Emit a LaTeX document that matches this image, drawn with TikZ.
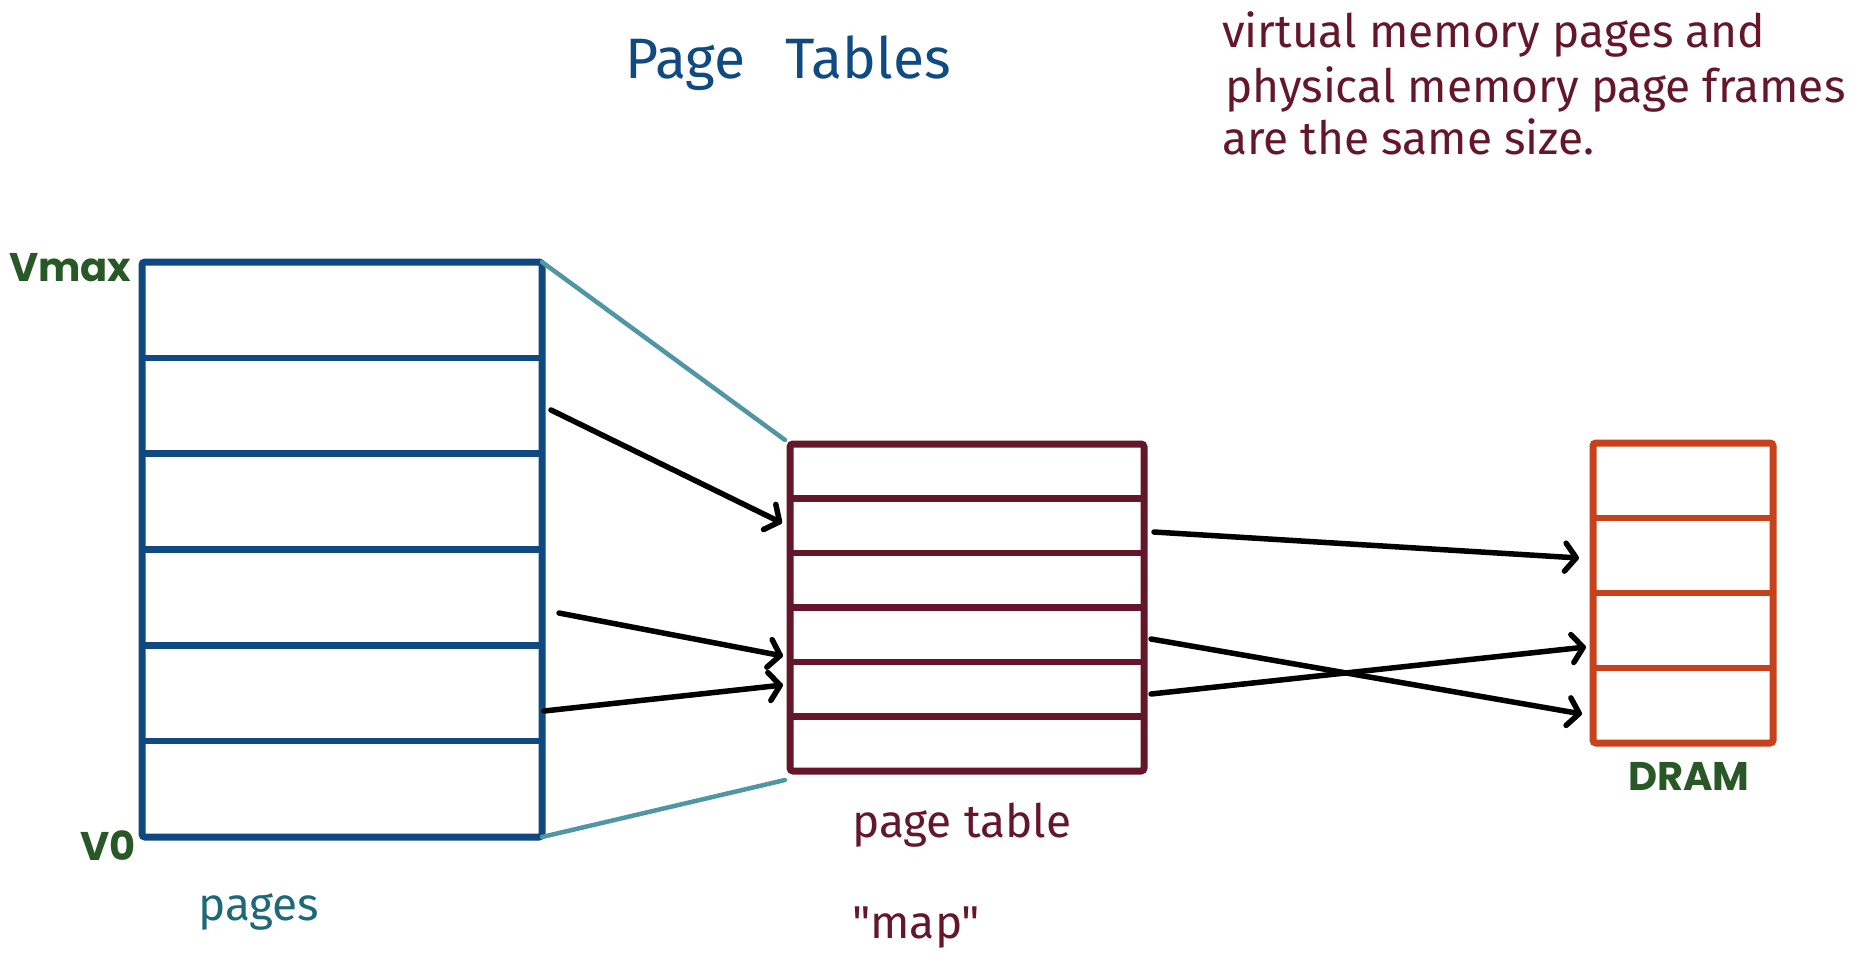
\documentclass[tikz,border=0pt]{standalone}
\usepackage{fontspec}
\setmainfont{Fira Sans}
\newfontfamily\handfont{Fira Sans}
\newfontfamily\geofont{Poppins}
\usetikzlibrary{arrows.meta,calc}
\definecolor{vblue}{RGB}{16,72,130}
\definecolor{tealline}{RGB}{80,150,165}
\definecolor{ptmaroon}{RGB}{100,22,42}
\definecolor{dramred}{RGB}{198,66,28}
\definecolor{lgreen}{RGB}{40,88,38}
\definecolor{pagesteal}{RGB}{30,105,120}
\definecolor{titleblue}{RGB}{15,75,130}
\begin{document}
\begin{tikzpicture}[x=1pt,y=-1pt,
  mem/.style={draw, line width=7pt, rounded corners=3pt, inner sep=0pt, outer sep=0pt},
  divline/.style={line width=6.5pt},
  link/.style={draw=black, line width=5.5pt, line cap=round, -{Straight Barb[length=11pt,width=28pt,round]}},
  fanline/.style={draw=tealline, line width=4.5pt, line cap=round},
  hand/.style={inner sep=0pt, anchor=base west, font=\handfont\fontsize{46}{54}\selectfont},
  tag/.style={inner sep=0pt, anchor=base west, text=lgreen, font=\geofont\bfseries\fontsize{40}{48}\selectfont}]
\useasboundingbox (0,0) rectangle (1861,977);
\fill[white] (0,0) rectangle (1861,977);

% boxes
\node[mem, draw=vblue, minimum width=400pt, minimum height=575pt] (vbox) at (342,549.5) {};
\node[mem, draw=ptmaroon, minimum width=354pt, minimum height=327pt] (ptable) at (967,607.5) {};
\node[mem, draw=dramred, minimum width=180pt, minimum height=300pt] (dram) at (1683,593) {};

% dividers
\foreach \k in {1,...,5}
  \draw[divline, vblue] ($(vbox.north west)!\k/6!(vbox.south west)$) -- ($(vbox.north east)!\k/6!(vbox.south east)$);
\foreach \k in {1,...,5}
  \draw[divline, ptmaroon] ($(ptable.north west)!\k/6!(ptable.south west)$) -- ($(ptable.north east)!\k/6!(ptable.south east)$);
\foreach \k in {1,...,3}
  \draw[divline, dramred] ($(dram.north west)!\k/4!(dram.south west)$) -- ($(dram.north east)!\k/4!(dram.south east)$);

% fan lines
\coordinate (ptTop) at (785,440);
\coordinate (ptBot) at (785,780);
\draw[fanline] (vbox.north east) -- (ptTop);
\draw[fanline] (vbox.south east) -- (ptBot);

% arrow endpoints
\coordinate (s1) at (551,410);  \coordinate (e1) at (782,523);
\coordinate (s2) at (559,613);  \coordinate (e2) at (783,656);
\coordinate (s3) at (544,711);  \coordinate (e3) at (783,685);
\coordinate (s4) at (1154,532); \coordinate (e4) at (1579,558);
\coordinate (s5) at (1151,639); \coordinate (e5) at (1582,714);
\coordinate (s6) at (1151,694); \coordinate (e6) at (1586,647);
\draw[link] (s1) -- (e1);
\draw[link] (s2) -- (e2);
\draw[link] (s3) -- (e3);
\draw[link] (s4) -- (e4);
\draw[link] (s5) -- (e5);
\draw[link] (s6) -- (e6);

% labels
\node[tag] (vmax) at (9,281) {Vmax};
\node[tag] (v0) at (80,860) {V0};
\node[tag] (dramlbl) at (1628,790) {DRAM};

\node[hand, text=titleblue, font=\handfont\fontsize{57}{66}\selectfont] (title) at (625,78) {Page\hspace{0.7em}Tables};
\node[hand, text=ptmaroon] (note1) at (1222,47) {virtual memory pages and};
\node[hand, text=ptmaroon] (note2) at (1225,102) {physical memory page frames};
\node[hand, text=ptmaroon] (note3) at (1222,154) {are the same size.};
\node[hand, text=pagesteal] (pageslbl) at (198,920) {pages};
\node[hand, text=ptmaroon] (ptlbl) at (852,837) {page table};
\node[hand, text=ptmaroon] (maplbl) at (852,938) {"map"};
\end{tikzpicture}
\end{document}
